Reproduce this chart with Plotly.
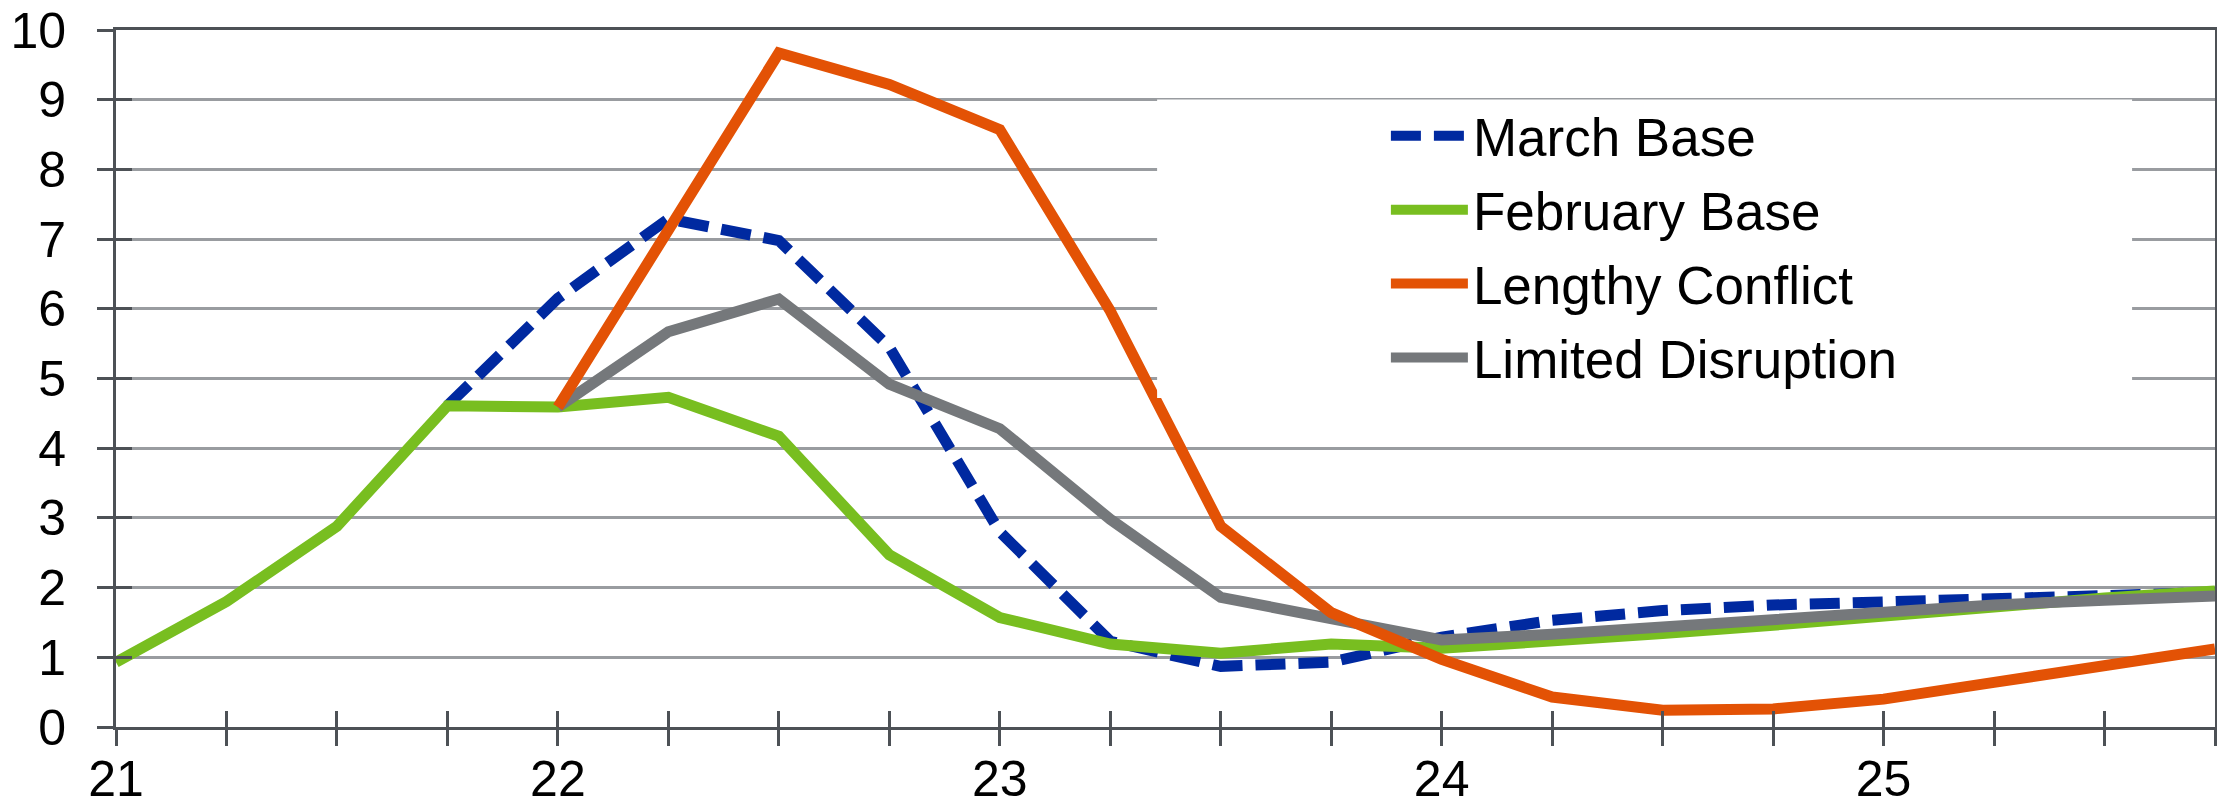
import plotly.graph_objects as go

# ---- data (quarterly, x = year 21..25.75) ----
x_all = [21.0, 21.25, 21.5, 21.75, 22.0, 22.25, 22.5, 22.75, 23.0, 23.25,
         23.5, 23.75, 24.0, 24.25, 24.5, 24.75, 25.0, 25.25, 25.5, 25.75]

feb_base = [0.93, 1.80, 2.88, 4.61, 4.59, 4.73, 4.17, 2.47, 1.57, 1.19,
            1.06, 1.19, 1.13, 1.22, 1.34, 1.46, 1.60, 1.73, 1.85, 1.95]

x_march = x_all[3:]
march_base = [4.61, 6.15, 7.29, 6.98, 5.45, 2.80, 1.23, 0.87, 0.93, 1.29,
              1.53, 1.67, 1.75, 1.80, 1.83, 1.87, 1.93]

x_scen = x_all[4:]
lengthy_conflict = [4.59, 7.15, 9.67, 9.22, 8.57, 5.97, 2.88, 1.64, 0.97, 0.43,
                    0.24, 0.26, 0.40, 0.64, 0.88, 1.12]
limited_disruption = [4.59, 5.67, 6.14, 4.92, 4.28, 2.98, 1.86, 1.56, 1.25, 1.33,
                      1.43, 1.54, 1.66, 1.75, 1.82, 1.88]

x_tickvals = x_all
x_ticktext = ["21", "", "", "", "22", "", "", "", "23", "", "", "", "24", "", "", "",
              "25", "", "", ""]
y_tickvals = list(range(0, 11))

# ---- styling ----
FONT = "Liberation Sans, Arial, Helvetica, sans-serif"
BLUE = "#0029a0"
GREEN = "#78be20"
ORANGE = "#e35205"
GRAY = "#75787b"
GRID = "#999ca0"
AXIS = "#4d5156"
LW = 11

fig = go.Figure()

# invisible helper trace so the overlaid axes (inner tick halves + labels) get drawn
fig.add_trace(go.Scatter(x=x_all, y=feb_base, xaxis="x2", yaxis="y2", mode="lines",
                         opacity=0, showlegend=False, hoverinfo="skip",
                         line=dict(width=0.1, color="white")))

fig.add_trace(go.Scatter(x=x_march, y=march_base, mode="lines", name="March Base",
                         legendgroup="a", legendrank=1,
                         line=dict(color=BLUE, width=LW, dash="30px,13px")))
fig.add_trace(go.Scatter(x=x_all, y=feb_base, mode="lines", name="February Base",
                         legendgroup="b", legendrank=2,
                         line=dict(color=GREEN, width=LW)))
fig.add_trace(go.Scatter(x=x_scen, y=limited_disruption, mode="lines", name="Limited Disruption",
                         legendgroup="d", legendrank=4,
                         line=dict(color=GRAY, width=LW)))
fig.add_trace(go.Scatter(x=x_scen, y=lengthy_conflict, mode="lines", name="Lengthy Conflict",
                         legendgroup="c", legendrank=3,
                         line=dict(color=ORANGE, width=LW)))

# white box behind the legend (hides gridlines and lines, like the original)
fig.add_shape(type="rect", xref="paper", yref="paper", x0=0.496, x1=0.9605, y0=0.472, y1=0.9003,
              fillcolor="white", line=dict(width=0), layer="above")

fig.update_layout(
    width=2217, height=810,
    margin=dict(l=116, r=2, t=30, b=83, autoexpand=False),
    paper_bgcolor="white", plot_bgcolor="white",
    font=dict(family=FONT, size=50, color="black"),
    showlegend=True,
    legend=dict(x=0.605, y=0.907, xanchor="left", yanchor="top", bgcolor="rgba(0,0,0,0)",
                font=dict(family=FONT, size=53, color="black"), traceorder="grouped",
                tracegroupgap=2, itemwidth=77),
    # outer half of the crossing ticks
    xaxis=dict(range=[21, 25.75], tickmode="array", tickvals=x_tickvals,
               ticks="outside", ticklen=16, tickwidth=3, tickcolor=AXIS, showticklabels=False,
               showline=True, linecolor=AXIS, linewidth=3, mirror=True, automargin=False,
               showgrid=False, zeroline=False),
    # inner half of the crossing ticks + year labels
    xaxis2=dict(range=[21, 25.75], overlaying="x", anchor="y2", side="bottom",
                tickmode="array", tickvals=x_tickvals, ticktext=x_ticktext,
                ticks="inside", ticklen=16, tickwidth=3, tickcolor=AXIS,
                showticklabels=True, tickfont=dict(size=50), ticklabelstandoff=18,
                showgrid=False, showline=False, zeroline=False, automargin=False),
    yaxis=dict(range=[0, 10], tickmode="array", tickvals=y_tickvals,
               ticks="outside", ticklen=16, tickwidth=3, tickcolor=AXIS,
               showline=True, linecolor=AXIS, linewidth=3, mirror=True, automargin=False,
               showgrid=True, gridcolor=GRID, gridwidth=2.5, zeroline=False,
               tickfont=dict(size=50), ticklabelstandoff=21),
    yaxis2=dict(range=[0, 10], overlaying="y", anchor="x2", side="left",
                tickmode="array", tickvals=y_tickvals, ticks="inside", ticklen=16, tickwidth=3,
                tickcolor=AXIS, showticklabels=False, showgrid=False, showline=False,
                zeroline=False, automargin=False),
)

fig.write_html("out.html")
